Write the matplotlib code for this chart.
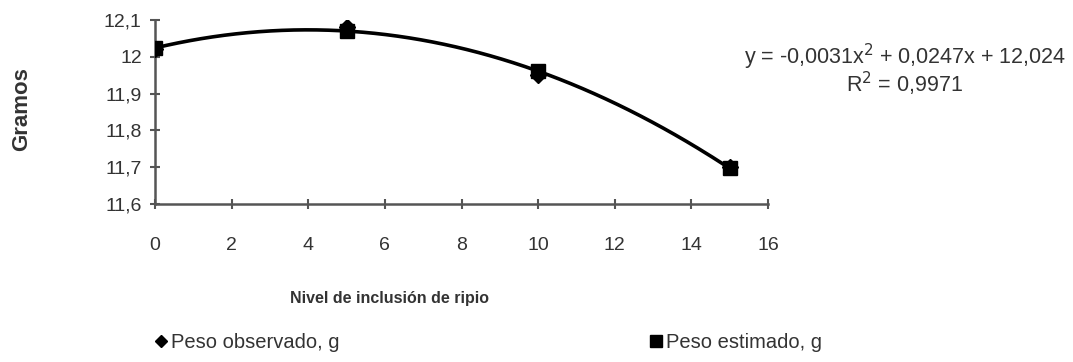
import numpy as np
import matplotlib.pyplot as plt
from matplotlib.ticker import FuncFormatter
from matplotlib.lines import Line2D

plt.rcParams['font.family'] = ['Liberation Sans', 'DejaVu Sans']

# niveles de inclusion de ripio (%)
nivel = [0, 5, 10, 15]
peso_observado = [12.02, 12.08, 11.95, 11.70]
peso_estimado = [12.024, 12.070, 11.961, 11.697]

# coeficientes del ajuste cuadratico
coef = [-0.0031, 0.0247, 12.024]
r2 = 0.9971

txt = '#333333'

fig = plt.figure(figsize=(10.73, 3.62), dpi=100)
ax = fig.add_axes([155 / 1073, 1 - 204 / 362, (768 - 155) / 1073, (204 - 20) / 362])

xs = np.linspace(nivel[0], nivel[-1], 200)
ax.plot(xs, np.polyval(coef, xs), color='black', lw=2.6, zorder=2)
ax.plot(nivel, peso_observado, 'D', color='black', ms=8, zorder=3)
ax.plot(nivel, peso_estimado, 's', color='black', ms=10, zorder=4)

ax.set_xlim(0, 16)
ax.set_ylim(11.6, 12.1)
ax.set_xticks(range(0, 17, 2))
ax.set_yticks([11.6, 11.7, 11.8, 11.9, 12.0, 12.1])
ax.yaxis.set_major_formatter(FuncFormatter(lambda v, p: f'{v:.1f}'.replace('.', ',').replace(',0', '')))

for s in ['top', 'right']:
    ax.spines[s].set_visible(False)
for s in ['left', 'bottom']:
    ax.spines[s].set_color('#555555')
    ax.spines[s].set_linewidth(1.8)
ax.tick_params(direction='inout', length=7, width=1.5, color='#555555',
               labelsize=14, labelcolor=txt)
ax.tick_params(axis='x', pad=20)
ax.tick_params(axis='y', pad=6)
ax.patch.set_visible(False)

fig.text(22 / 1073, 1 - 109 / 362, 'Gramos', rotation=90, ha='center', va='center',
         fontsize=16, fontweight='bold', color=txt)
fig.text(390 / 1073, 1 - 298 / 362, 'Nivel de inclusión de ripio', ha='center', va='center',
         fontsize=11.5, fontweight='bold', color=txt)

eq = 'y = -0,0031x$^2$ + 0,0247x + 12,024'
fig.text(1066 / 1073, 1 - 57 / 362, eq, ha='right', va='center', fontsize=15.5, color=txt)
fig.text(905 / 1073, 1 - 84 / 362, 'R$^2$ = 0,9971', ha='center', va='center',
         fontsize=15.5, color=txt)

handles = [Line2D([], [], ls='none', marker='D', color='black', ms=6),
           Line2D([], [], ls='none', marker='s', color='black', ms=9)]
fig.legend(handles[:1], ['Peso observado, g'], loc='center left',
           bbox_to_anchor=(135 / 1073, 1 - 343 / 362), frameon=False, fontsize=14.5,
           handletextpad=0.1, handlelength=0.8, labelcolor=txt)
fig.legend(handles[1:], ['Peso estimado, g'], loc='center left',
           bbox_to_anchor=(630 / 1073, 1 - 343 / 362), frameon=False, fontsize=14.5,
           handletextpad=0.1, handlelength=0.8, labelcolor=txt)

fig.savefig('out.png', dpi=100)
